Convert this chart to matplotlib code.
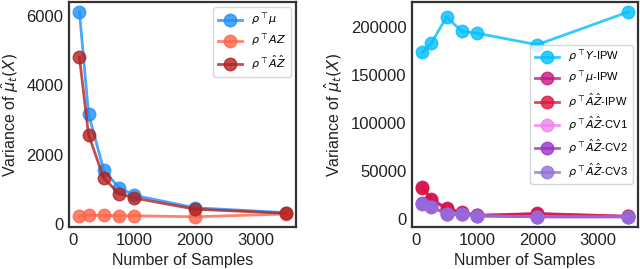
import matplotlib
matplotlib.use("Agg")
import matplotlib.pyplot as plt

# sample sizes shared by both panels
n_samples = [100, 250, 500, 750, 1000, 2000, 3500]

# left panel
var_rho_mu = [6100, 3170, 1550, 1050, 830, 470, 330]
var_rho_az = [230, 260, 250, 240, 240, 210, 290]
var_rho_ahat_zhat = [4800, 2570, 1320, 880, 750, 430, 310]

# right panel
var_y_ipw = [174000, 184000, 211000, 196000, 194000, 182000, 216000]
var_mu_ipw = [34000, 21000, 11500, 7000, 4000, 6000, 3000]
var_az_ipw = [33000, 20000, 11000, 6500, 4000, 5500, 3000]
var_az_cv1 = [16000, 13000, 5000, 5000, 3500, 2500, 2500]
var_az_cv2 = [16500, 13500, 5000, 5000, 3500, 2500, 2500]
var_az_cv3 = [16000, 13000, 5000, 5000, 3500, 2500, 2500]

plt.rcParams["font.family"] = ["Liberation Sans", "DejaVu Sans"]
plt.rcParams["mathtext.fontset"] = "dejavusans"

fig = plt.figure(figsize=(6.4, 2.69), dpi=100)
ax1 = fig.add_axes([0.108, 0.156, 0.355, 0.837])
ax2 = fig.add_axes([0.644, 0.156, 0.353, 0.837])

style = dict(marker="o", markersize=9, linewidth=2, alpha=0.8)

ax1.plot(n_samples, var_rho_mu, color="#1E90FF", label=r"$\rho^\top\mu$", **style)
ax1.plot(n_samples, var_rho_az, color="#FF6347", label=r"$\rho^\top AZ$", **style)
ax1.plot(n_samples, var_rho_ahat_zhat, color="#B22222", label=r"$\rho^\top\hat{A}\hat{Z}$", **style)

ax2.plot(n_samples, var_y_ipw, color="#00BFFF", label=r"$\rho^\top Y$-IPW", **style)
ax2.plot(n_samples, var_mu_ipw, color="#C71585", label=r"$\rho^\top\mu$-IPW", **style)
ax2.plot(n_samples, var_az_ipw, color="#DC143C", label=r"$\rho^\top\hat{A}\hat{Z}$-IPW", **style)
ax2.plot(n_samples, var_az_cv1, color="#EE82EE", label=r"$\rho^\top\hat{A}\hat{Z}$-CV1", **style)
ax2.plot(n_samples, var_az_cv2, color="#9932CC", label=r"$\rho^\top\hat{A}\hat{Z}$-CV2", **style)
ax2.plot(n_samples, var_az_cv3, color="#9370DB", label=r"$\rho^\top\hat{A}\hat{Z}$-CV3", **style)

for ax in (ax1, ax2):
    ax.set_xlabel("Number of Samples", fontsize=11.5, color="#222222")
    ax.set_ylabel(r"Variance of $\hat{\mu}_t(X)$", fontsize=11.5, color="#222222")
    ax.tick_params(length=0, labelsize=12, labelcolor="#222222", pad=4)
    ax.set_xticks([0, 1000, 2000, 3000])
    for sp in ax.spines.values():
        sp.set_color("#333333")
        sp.set_linewidth(1.6)

ax1.set_yticks([0, 2000, 4000, 6000])
ax2.set_yticks([0, 50000, 100000, 150000, 200000])

ax1.legend(loc="upper right", fontsize=8, handlelength=2.2, labelspacing=0.45)
ax2.legend(loc="center right", fontsize=8, handlelength=2.2, labelspacing=0.45)

fig.savefig("out.png", dpi=100)
